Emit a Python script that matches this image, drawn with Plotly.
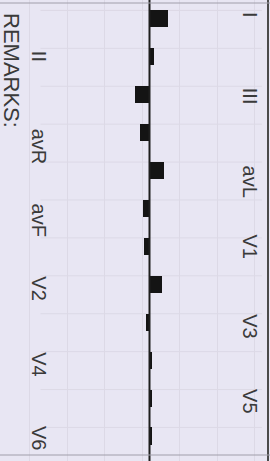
import plotly.graph_objects as go

# --- data ---
leads = ["I", "II", "III", "avR", "avL", "avF", "V1", "V2", "V3", "V4", "V5", "V6"]
values = [18, 4, -15, -10, 14, -7, -6, 12, -3.5, 2, 2, 2]
label_side = ["right", "left", "right", "left", "right", "left",
              "right", "left", "right", "left", "right", "left"]
label_shift = [4, 1, -1, -14, -11, -11, 0, -4, -4, -4, -3, -2]
remarks_text = "REMARKS:"

BG = "#e8e6f3"
GRID = "#dcd9e6"
TEXT = "#3a3a3a"

fig = go.Figure()
fig.add_trace(go.Bar(
    y=leads, x=values, orientation="h", width=0.45,
    marker=dict(color="#141414", line=dict(width=0)),
    showlegend=False, hoverinfo="skip",
))

for i, (lead, side, sh) in enumerate(zip(leads, label_side, label_shift)):
    fig.add_annotation(
        x=100.5 if side == "right" else -110.5, y=i, xref="x", yref="y",
        text=lead, textangle=90, showarrow=False, yshift=sh,
        font=dict(family="Liberation Sans, Arial, sans-serif", size=20, color=TEXT),
        xanchor="center", yanchor="middle",
    )

fig.add_annotation(
    x=11 / 270, y=1 - 70 / 461, xref="paper", yref="paper",
    text=remarks_text, textangle=90, showarrow=False,
    font=dict(family="Liberation Sans, Arial, sans-serif", size=22, color=TEXT),
    xanchor="center", yanchor="middle",
)

# faint horizontal grid lines at bar top edges
shapes = []
for i in range(len(leads)):
    shapes.append(dict(type="line", xref="paper", yref="y", x0=0.15, x1=0.97,
                       y0=i - 0.225, y1=i - 0.225,
                       line=dict(color=GRID, width=1), layer="below"))
# zero line
shapes.append(dict(type="line", xref="x", yref="paper", x0=0, x1=0, y0=0, y1=1,
                   line=dict(color="#1e1e1e", width=2)))
# form borders
shapes.append(dict(type="line", xref="paper", yref="paper", x0=268 / 270, x1=268 / 270,
                   y0=0, y1=1, line=dict(color="#4a4a4a", width=2)))
shapes.append(dict(type="line", xref="paper", yref="paper", x0=0, x1=1,
                   y0=1 - 3 / 461, y1=1 - 3 / 461, line=dict(color="#a09eaa", width=1)))
shapes.append(dict(type="line", xref="paper", yref="paper", x0=0, x1=1,
                   y0=1 - 455 / 461, y1=1 - 455 / 461, line=dict(color="#a09eaa", width=1)))

fig.update_layout(
    width=270, height=461,
    margin=dict(l=0, r=0, t=0, b=0),
    paper_bgcolor=BG, plot_bgcolor=BG,
    shapes=shapes,
    bargap=0,
    xaxis=dict(range=[-149.5, 120.5], showticklabels=False, ticks="",
               showgrid=True, gridcolor=GRID, gridwidth=1,
               tick0=-7.5, dtick=37.5, zeroline=False, showline=False, fixedrange=True),
    yaxis=dict(range=[11.66, -0.5], showticklabels=False, ticks="",
               showgrid=False, zeroline=False, showline=False,
               categoryorder="array", categoryarray=leads, fixedrange=True),
)

fig.write_html("out.html", config={"displayModeBar": False},
               post_script="document.body.style.margin='0';document.body.style.background='%s';" % BG)
